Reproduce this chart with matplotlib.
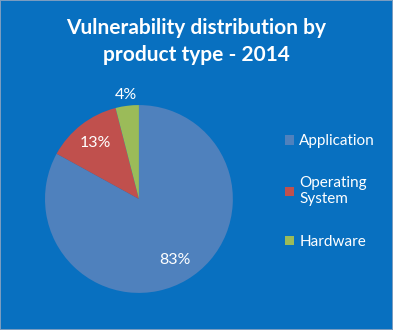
import matplotlib
matplotlib.use("Agg")
import matplotlib.pyplot as plt
import numpy as np

plt.rcParams['font.family'] = ['Lato', 'DejaVu Sans']

# dados do gráfico
categorias = ['Application', 'Operating\nSystem', 'Hardware']
percentuais = [83, 13, 4]
cores = ['#4F81BD', '#C0504D', '#9BBB59']
titulo = 'Vulnerability distribution by\nproduct type - 2014'

fundo = '#0870C0'

fig = plt.figure(figsize=(3.93, 3.30), dpi=100)
fig.patch.set_facecolor(fundo)
fig.patch.set_edgecolor('#7A9CC0')
fig.patch.set_linewidth(1.2)

ax = fig.add_axes([0.1145, 0.112, 0.478, 0.570])
ax.set_facecolor(fundo)

fatias, _, textos = ax.pie(percentuais, colors=cores, startangle=90, counterclock=False,
                           autopct='%1.0f%%', pctdistance=0.76,
                           textprops={'color': 'white', 'fontsize': 11.5})
ax.set_aspect('equal')
ax.set_xlim(-1, 1)
ax.set_ylim(-1, 1)

# rótulo do hardware fica fora da pizza (igual ao excel)
w = fatias[2]
ang = np.deg2rad((w.theta1 + w.theta2) / 2)
textos[2].set_position((1.12 * np.cos(ang), 1.12 * np.sin(ang)))
for t in textos:
    t.set_clip_on(False)

fig.text(0.499, 0.875, titulo, ha='center', va='center', color='white',
         fontsize=15, fontweight='bold', linespacing=1.45)

leg = fig.legend(fatias, categorias, loc='center left', bbox_to_anchor=(0.69, 0.42),
                 frameon=False, fontsize=11, labelcolor='white',
                 handlelength=0.6, handleheight=0.6, handletextpad=0.35,
                 labelspacing=1.85)

fig.savefig('out.png', dpi=100, facecolor=fundo)
